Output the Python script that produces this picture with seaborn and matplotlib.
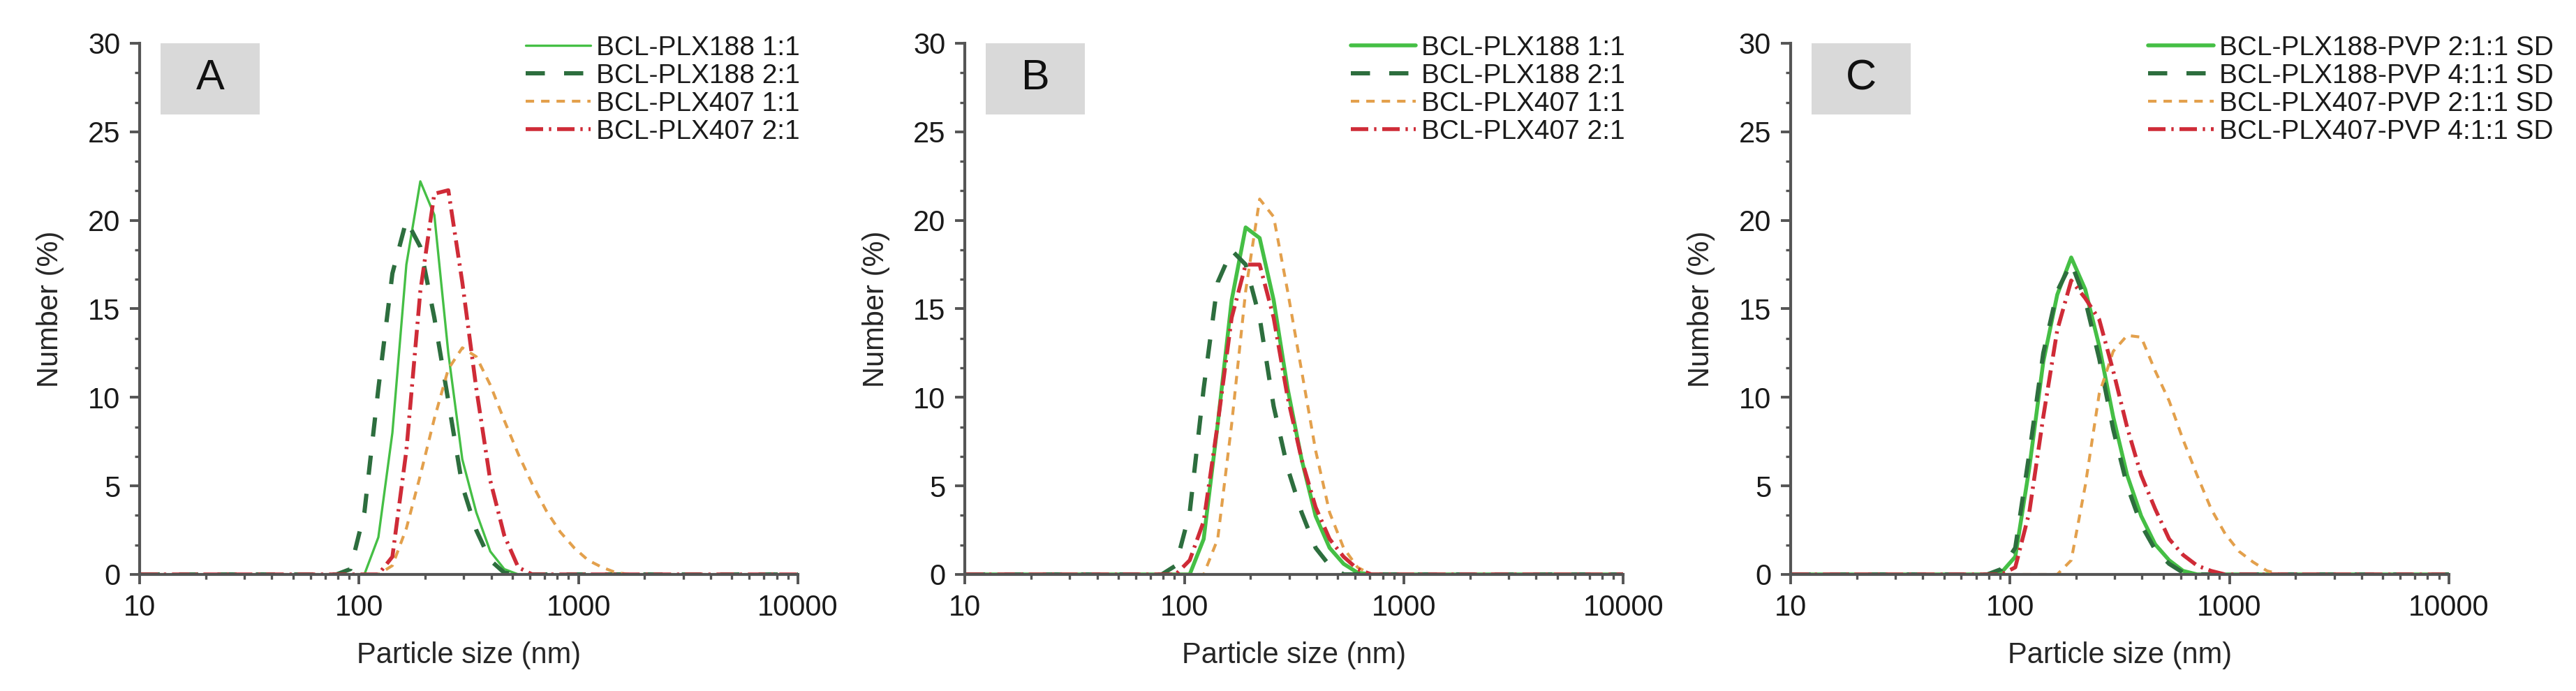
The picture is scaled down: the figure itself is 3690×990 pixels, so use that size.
import matplotlib
matplotlib.use("Agg")
import matplotlib.pyplot as plt
import matplotlib.ticker as mticker
from matplotlib.patches import Rectangle
import seaborn as sns
import numpy as np
import pandas as pd

# DLS size bins (nm) from 10 to 10000
size_low = [10.1, 11.7, 13.54, 15.69, 18.17, 21.04, 24.36, 28.21, 32.67, 37.84,
            43.82, 50.75, 58.77, 68.06]
size_peak = [78.82, 91.28, 105.7, 122.4, 141.8, 164.2, 190.1, 220.2, 255.0, 295.3,
             342.0, 396.1, 458.7, 531.2, 615.1, 712.4, 825.0, 955.4, 1106, 1281,
             1484, 1718]
size_high = [1990, 2305, 2669, 3091, 3580, 4145, 4801, 5560, 6439, 7456, 8635, 10000]

# Number (%) over size_peak; zero outside
a_188_11 = [0, 0, 0, 2.1, 8.0, 17.5, 22.2, 20.3, 12.5, 6.5, 3.5, 1.3, 0.3, 0, 0, 0, 0, 0, 0, 0, 0, 0]
a_188_21 = [0, 0.3, 3.5, 10.5, 17.0, 20.0, 18.5, 14.5, 9.8, 5.0, 2.5, 0.8, 0.1, 0, 0, 0, 0, 0, 0, 0, 0, 0]
a_407_11 = [0, 0, 0, 0, 0.5, 2.6, 5.6, 8.8, 11.6, 12.8, 12.3, 10.7, 8.7, 6.8, 5.1, 3.6, 2.4, 1.5, 0.8, 0.4, 0.1, 0]
a_407_21 = [0, 0, 0, 0, 1.0, 7.0, 16.0, 21.5, 21.7, 16.5, 10.5, 5.3, 2.2, 0.4, 0, 0, 0, 0, 0, 0, 0, 0]

b_188_11 = [0, 0, 0, 2.0, 8.5, 15.5, 19.6, 19.0, 15.5, 10.5, 6.5, 3.3, 1.5, 0.6, 0.1, 0, 0, 0, 0, 0, 0, 0]
b_188_21 = [0, 0.5, 3.5, 10.5, 16.5, 18.3, 17.5, 14.5, 9.5, 6.0, 3.5, 1.5, 0.5, 0, 0, 0, 0, 0, 0, 0, 0, 0]
b_407_11 = [0, 0, 0, 0, 2.0, 8.5, 16.0, 21.2, 20.2, 16.0, 11.5, 7.0, 3.5, 1.5, 0.4, 0, 0, 0, 0, 0, 0, 0]
b_407_21 = [0, 0, 0.8, 3.0, 8.5, 14.5, 17.5, 17.5, 14.5, 10.0, 6.5, 3.8, 2.0, 1.0, 0.3, 0, 0, 0, 0, 0, 0, 0]

c_188_211 = [0, 0.1, 1.0, 6.0, 12.0, 15.8, 17.9, 16.1, 12.9, 8.9, 5.6, 3.3, 1.7, 0.8, 0.2, 0, 0, 0, 0, 0, 0, 0]
c_188_411 = [0, 0.3, 1.5, 6.8, 12.5, 16.0, 17.6, 15.5, 12.2, 8.2, 5.0, 2.8, 1.4, 0.6, 0.1, 0, 0, 0, 0, 0, 0, 0]
c_407_211 = [0, 0, 0, 0, 0, 0, 0.8, 5.0, 10.2, 12.6, 13.5, 13.4, 11.5, 9.8, 7.6, 5.6, 3.7, 2.3, 1.3, 0.7, 0.2, 0]
c_407_411 = [0, 0, 0.4, 3.5, 8.9, 13.8, 16.6, 15.6, 14.4, 11.5, 8.3, 5.6, 3.7, 2.0, 1.1, 0.5, 0.2, 0, 0, 0, 0, 0]

labels_ab = ["BCL-PLX188 1:1", "BCL-PLX188 2:1", "BCL-PLX407 1:1", "BCL-PLX407 2:1"]
labels_c = ["BCL-PLX188-PVP 2:1:1 SD", "BCL-PLX188-PVP 4:1:1 SD",
            "BCL-PLX407-PVP 2:1:1 SD", "BCL-PLX407-PVP 4:1:1 SD"]
panel_letters = ["A", "B", "C"]

panels = [
    ([a_188_11, a_188_21, a_407_11, a_407_21], labels_ab),
    ([b_188_11, b_188_21, b_407_11, b_407_21], labels_ab),
    ([c_188_211, c_188_411, c_407_211, c_407_411], labels_c),
]

sizes = np.array(size_low + size_peak + size_high)


def full_series(vals):
    return np.concatenate([np.zeros(len(size_low)), vals, np.zeros(len(size_high))])


# line styles: solid green, dashed dark green, short-dash orange, dash-dot red
colors = ["#45bf45", "#2d6e3e", "#e3a04c", "#cf2b37"]
widths = [2.0, 2.2, 1.5, 2.0]
dashes = [None, (4.5, 4.5), (2.9, 2.4), (4.5, 1.5, 0.6, 1.5)]

sns.set_theme(style="ticks")
plt.rcParams["font.family"] = ["Liberation Sans", "DejaVu Sans"]
plt.rcParams["axes.edgecolor"] = "#555555"
plt.rcParams["xtick.color"] = "#555555"
plt.rcParams["ytick.color"] = "#555555"
plt.rcParams["xtick.labelcolor"] = "#1a1a1a"
plt.rcParams["ytick.labelcolor"] = "#1a1a1a"

fig = plt.figure(figsize=(18.455, 4.95), dpi=200)
lefts = [0.0542, 0.3745, 0.6949]
legend_x = [0.5695, 0.5695, 0.527]

for p, (series, labels) in enumerate(panels):
    ax = fig.add_axes([lefts[p], 0.1687, 0.2555, 0.7687])
    for i, vals in enumerate(series):
        df = pd.DataFrame({"size": sizes, "number": full_series(vals)})
        lw = widths[i]
        if p == 0 and i == 0:
            lw = 1.2
        sns.lineplot(data=df, x="size", y="number", ax=ax, color=colors[i],
                     lw=lw, label=labels[i], estimator=None, sort=False)
        line = ax.lines[-1]
        if dashes[i] is not None:
            line.set_dashes(dashes[i])

    ax.set_xscale("log")
    ax.set_xlim(10, 10000)
    ax.set_ylim(0, 30)
    ax.xaxis.set_major_locator(mticker.FixedLocator([10, 100, 1000, 10000]))
    ax.xaxis.set_major_formatter(mticker.FuncFormatter(lambda v, pos: f"{v:.0f}"))
    ax.xaxis.set_minor_locator(mticker.LogLocator(base=10, subs=np.arange(2, 10)))
    ax.xaxis.set_minor_formatter(mticker.NullFormatter())
    ax.yaxis.set_major_locator(mticker.MultipleLocator(5))
    ax.yaxis.set_minor_locator(mticker.AutoMinorLocator(3))
    ax.tick_params(which="major", direction="out", length=5, width=1.4, labelsize=15, pad=5)
    ax.tick_params(which="minor", direction="out", length=2.5, width=1.2)
    for s in ["top", "right"]:
        ax.spines[s].set_visible(False)
    for s in ["left", "bottom"]:
        ax.spines[s].set_linewidth(1.5)

    ax.set_xlabel("Particle size (nm)", fontsize=15, labelpad=10)
    ax.set_ylabel("Number (%)", fontsize=15, labelpad=12)

    # grey panel tag
    ax.add_patch(Rectangle((0.032, 0.866), 0.15, 0.134, transform=ax.transAxes,
                           facecolor="#d9d9d9", edgecolor="none", zorder=0))
    ax.text(0.107, 0.933, panel_letters[p], transform=ax.transAxes, fontsize=22,
            ha="center", va="center", color="#111111")

    leg = ax.legend(loc="upper left", bbox_to_anchor=(legend_x[p], 1.035),
                    frameon=False, fontsize=14, handlelength=2.4,
                    handletextpad=0.2, labelspacing=0.1, borderaxespad=0.0)
    for t in leg.get_texts():
        t.set_color("#1a1a1a")

fig.savefig("out.png", dpi=200)
